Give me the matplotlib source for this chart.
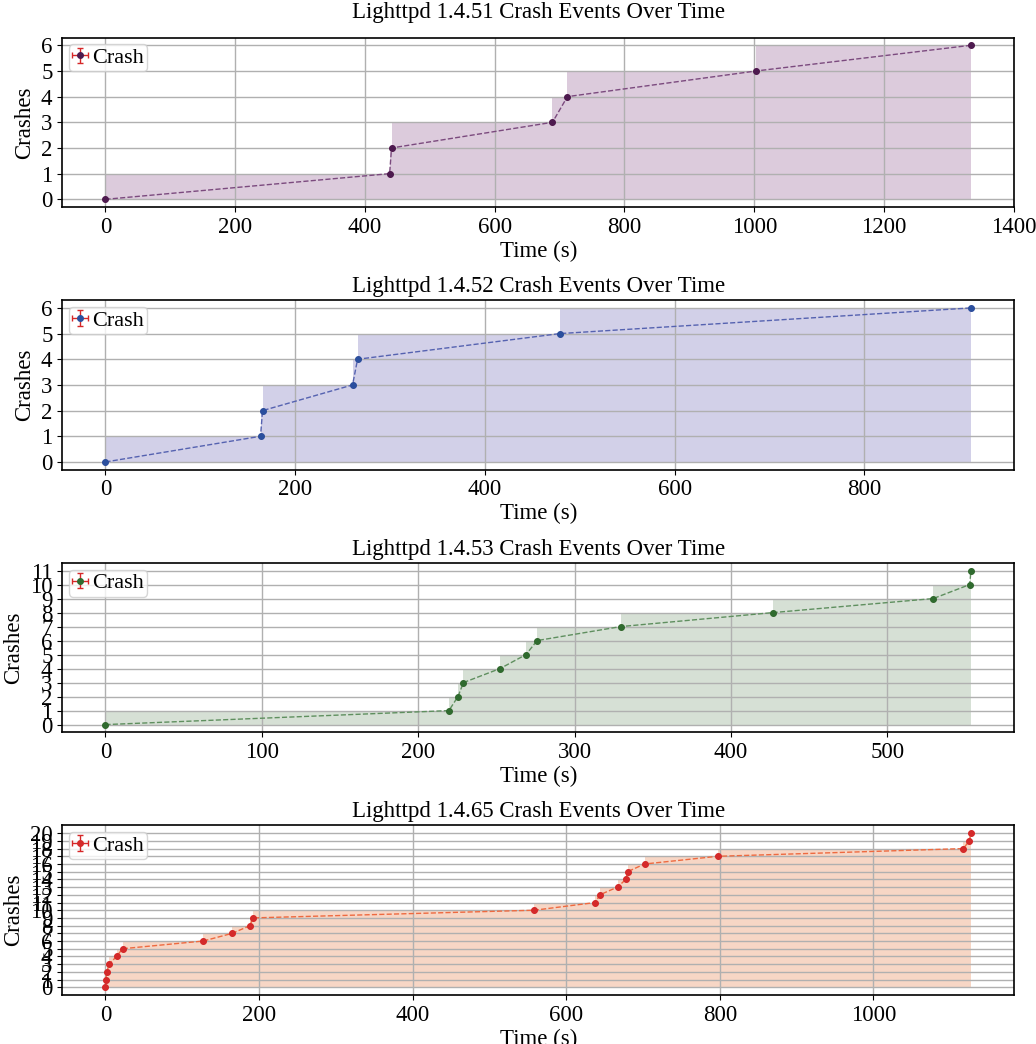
import matplotlib
matplotlib.use("Agg")
from matplotlib import pyplot as plt
from matplotlib.legend_handler import HandlerErrorbar

plt.rcParams['font.family'] = ['Liberation Serif', 'DejaVu Serif']

# crash times (s) per version, counts are 0..n-1
versions = ["1.4.51", "1.4.52", "1.4.53", "1.4.65"]
times_51 = [0, 438, 441, 689, 712, 1003, 1334]
times_52 = [0, 163.5, 165.6, 260.5, 265.8, 478.9, 912.4]
times_53 = [0, 219.6, 225.4, 228.9, 252.3, 268.9, 276, 329.5, 427, 529.3, 552.6, 553.4]
times_65 = [0, 0.5, 1.8, 4.8, 14.5, 22.3, 127.4, 165.2, 188.3, 191.8,
            558.6, 638, 643.7, 666.8, 677.6, 679.8, 702, 797.2, 1117, 1124.9, 1127]

all_times = [times_51, times_52, times_53, times_65]
marker_colors = ["#4d1a4f", "#2a4f9e", "#2f6b2f", "#d42a2a"]
line_colors = ["#7b4a7e", "#5562b0", "#5f8f5f", "#ee6a40"]
fill_colors = ["#dccbdc", "#d2d0e8", "#d6e0d5", "#f7d6c5"]

fig, axes = plt.subplots(4, 1, figsize=(10.36, 10.44), dpi=100)
fig.subplots_adjust(left=0.06, right=0.979, top=0.964, bottom=0.047, hspace=0.55)

for i, (ax, ver, times, mc, lc, fc) in enumerate(zip(axes, versions, all_times, marker_colors, line_colors, fill_colors)):
    counts = list(range(len(times)))
    ax.fill_between(times, counts, step='pre', color=fc, linewidth=0)
    ax.plot(times, counts, '--', color=lc, linewidth=1)
    ax.errorbar(times, counts, xerr=[0]*len(times), yerr=[0]*len(times), fmt='o',
                color=mc, markersize=4, ecolor='#d62728', elinewidth=1, capsize=2,
                label='Crash')
    ax.set_title("Lighttpd " + ver + " Crash Events Over Time", fontsize=16.5,
                 pad=14 if i == 0 else 6)
    ax.set_xlabel("Time (s)", fontsize=16.5, labelpad=2)
    ax.set_ylabel("Crashes", fontsize=16.5)
    ax.set_yticks(range(0, len(times)))
    ax.tick_params(labelsize=16.5)
    ax.grid(True, color='#b0b0b0', linewidth=1)
    for s in ax.spines.values():
        s.set_linewidth(1.2)
    ax.legend(loc='upper left', fontsize=16, handletextpad=0.2, borderpad=0.15,
              handlelength=0.7, borderaxespad=0.3,
              handler_map={type(ax.containers[0]): HandlerErrorbar(xerr_size=0.35, yerr_size=0.35)})

plt.savefig("out.png")
